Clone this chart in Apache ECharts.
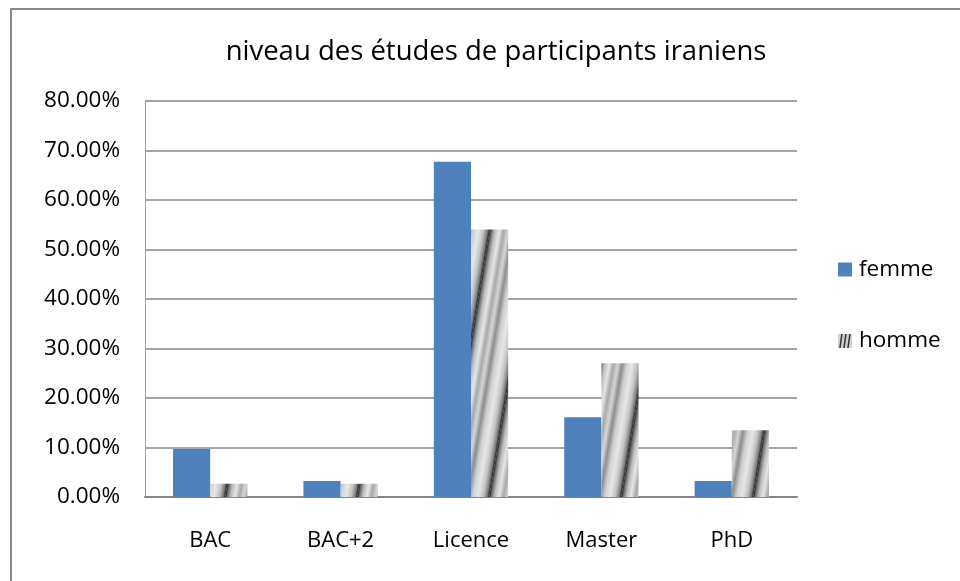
<!DOCTYPE html>
<html>
<head>
<meta charset="utf-8">
<script src="https://cdn.jsdelivr.net/npm/echarts@6/dist/echarts.min.js"></script>
<style>
  html, body { margin: 0; padding: 0; background: #fff; }
  #chart { width: 960px; height: 581px; }
</style>
</head>
<body>
<div id="chart"></div>
<script>
// Education levels of Iranian participants, share by gender
const categories = ['BAC', 'BAC+2', 'Licence', 'Master', 'PhD'];
const femme = [0.0968, 0.0323, 0.6774, 0.1613, 0.0323];
const homme = [0.0270, 0.0270, 0.5405, 0.2703, 0.1351];
const yTicks = [0, 0.1, 0.2, 0.3, 0.4, 0.5, 0.6, 0.7, 0.8];

const FONT = '"Open Sans", "Noto Sans", sans-serif';

// Slanted grey "chrome" texture used for the homme series.
// One tile is a single period wide and tall enough for the slant to wrap seamlessly.
const PERIOD = 44, SLOPE = 1 / 6;
const TILE_H = Math.round(PERIOD / SLOPE);
function makeTile() {
  const c = document.createElement('canvas');
  c.width = PERIOD; c.height = TILE_H;
  const ctx = c.getContext('2d');
  const stops = [
    [0.00, '#1e1e1e'], [0.04, '#6a6a6a'], [0.12, '#bdbdbd'], [0.22, '#e6e6e6'],
    [0.32, '#a8a8a8'], [0.42, '#d6d6d6'], [0.52, '#8e8e8e'], [0.62, '#cfcfcf'],
    [0.74, '#e8e8e8'], [0.86, '#c2c2c2'], [0.95, '#7a7a7a'], [1.00, '#1e1e1e']
  ];
  for (let y = 0; y < TILE_H; y++) {
    const shift = ((TILE_H - y) * SLOPE) % PERIOD;
    for (let k = -1; k <= 1; k++) {
      const x0 = shift + k * PERIOD;
      const g = ctx.createLinearGradient(x0, 0, x0 + PERIOD, 0);
      stops.forEach(s => g.addColorStop(s[0], s[1]));
      ctx.fillStyle = g;
      ctx.fillRect(x0, y, PERIOD, 1);
    }
  }
  return c;
}
const stripeTile = makeTile();

// small legend swatch with the same texture
function makeIcon() {
  const c = document.createElement('canvas');
  c.width = 14; c.height = 14;
  const ctx = c.getContext('2d');
  ctx.fillStyle = '#d0d0d0';
  ctx.fillRect(0, 0, 14, 14);
  ctx.strokeStyle = '#333';
  ctx.lineWidth = 1.5;
  [2, 6, 10].forEach(x => { ctx.beginPath(); ctx.moveTo(x + 2, 0); ctx.lineTo(x, 14); ctx.stroke(); });
  return c.toDataURL();
}
const hommeIcon = makeIcon();

const chart = echarts.init(document.getElementById('chart'), null, { renderer: 'canvas' });

chart.setOption({
  backgroundColor: '#ffffff',
  animation: false,
  title: {
    text: 'niveau des études de participants iraniens',
    left: 491, textAlign: 'center', top: 33,
    textStyle: { fontFamily: FONT, fontSize: 27.5, fontWeight: 'normal', color: '#000' }
  },
  legend: {
    orient: 'vertical',
    left: 833, top: 253,
    itemGap: 48,
    itemWidth: 14, itemHeight: 14,
    textStyle: { fontFamily: FONT, fontSize: 22.5, color: '#000', padding: [0, 0, 0, 2] },
    data: [
      { name: 'femme', icon: 'rect' },
      { name: 'homme', icon: 'image://' + hommeIcon }
    ]
  },
  grid: { left: 145, right: 163, top: 101, bottom: 84, containLabel: false },
  xAxis: {
    type: 'category',
    data: categories,
    axisLine: { show: true, lineStyle: { color: '#868686', width: 2 } },
    axisTick: { show: false },
    axisLabel: { fontFamily: FONT, fontSize: 22, color: '#000', margin: 33 }
  },
  yAxis: {
    type: 'value',
    min: yTicks[0], max: yTicks[yTicks.length - 1], interval: 0.1,
    axisLine: { show: true, lineStyle: { color: '#a0a0a0', width: 1 } },
    axisTick: { show: false },
    splitLine: { show: true, lineStyle: { color: '#868686', width: 1.5 } },
    axisLabel: {
      fontFamily: FONT, fontSize: 22.5, color: '#000', margin: 25,
      formatter: v => (v * 100).toFixed(2) + '%'
    }
  },
  series: [
    {
      name: 'femme', type: 'bar', data: femme,
      barGap: '0%', barCategoryGap: '43%',
      itemStyle: { color: '#4f81bd' }
    },
    {
      name: 'homme', type: 'bar', data: homme,
      itemStyle: { color: { image: stripeTile, repeat: 'repeat' } }
    }
  ],
  graphic: [
    {
      type: 'rect', silent: true,
      shape: { x: 11, y: 9, width: 1000, height: 1000 },
      style: { fill: 'none', stroke: '#8a8a8a', lineWidth: 2 }
    }
  ]
});
</script>
</body>
</html>
